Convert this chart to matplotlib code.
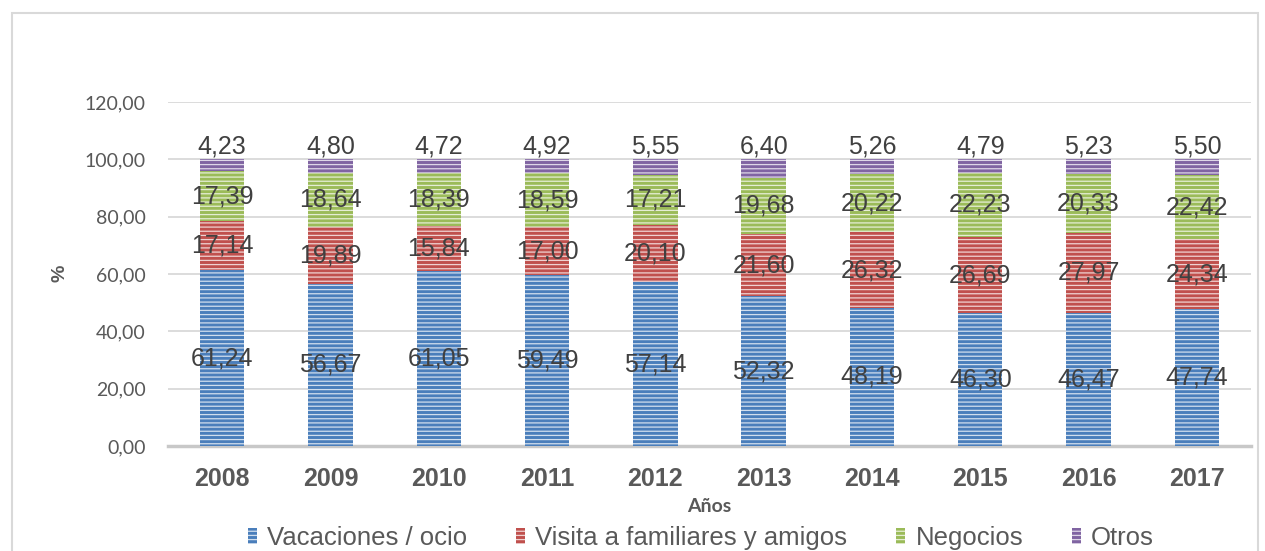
import numpy as np
import matplotlib.pyplot as plt
from matplotlib.patches import Rectangle

years = ['2008', '2009', '2010', '2011', '2012', '2013', '2014', '2015', '2016', '2017']
vacaciones = [61.24, 56.67, 61.05, 59.49, 57.14, 52.32, 48.19, 46.30, 46.47, 47.74]
visita = [17.14, 19.89, 15.84, 17.00, 20.10, 21.60, 26.32, 26.69, 27.97, 24.34]
negocios = [17.39, 18.64, 18.39, 18.59, 17.21, 19.68, 20.22, 22.23, 20.33, 22.42]
otros = [4.23, 4.80, 4.72, 4.92, 5.55, 6.40, 5.26, 4.79, 5.23, 5.50]

series = [
    ('Vacaciones / ocio', vacaciones, '#4a7ebb'),
    ('Visita a familiares y amigos', visita, '#c0504d'),
    ('Negocios', negocios, '#9bbb59'),
    ('Otros', otros, '#8064a2'),
]

plt.rcParams['font.family'] = ['Liberation Sans', 'DejaVu Sans']
plt.rcParams['hatch.linewidth'] = 0.9

fig = plt.figure(figsize=(12.65, 5.51), dpi=100)
ax = fig.add_axes([168 / 1265, 1 - 446 / 551, (1251 - 168) / 1265, (446 - 102) / 551])

# outer chart frame
fig.patches.append(Rectangle((12 / 1265, -0.1), (1258 - 12) / 1265, 1.1 - 13 / 551,
                             transform=fig.transFigure, fill=False,
                             edgecolor='#d9d9d9', lw=1.5))

x = np.arange(len(years))
bottom = np.zeros(len(years))
handles = []
for name, vals, col in series:
    vals = np.array(vals)
    b = ax.bar(x, vals, 0.41, bottom=bottom, color=col, edgecolor=(1, 1, 1, 0.75),
               lw=0, hatch='----', label=name, zorder=2)
    handles.append(b)
    for i, v in enumerate(vals):
        if name == 'Otros':
            ty = 104.5
        else:
            ty = bottom[i] + v / 2
        ax.text(x[i], ty, f'{v:.2f}'.replace('.', ','), ha='center', va='center',
                fontsize=18, color='#404040', zorder=3)
    bottom += vals

ax.set_xlim(-0.5, len(years) - 0.5)
ax.set_ylim(0, 120)
ax.set_yticks(np.arange(0, 121, 20))
ax.set_yticklabels([f'{t:.2f}'.replace('.', ',') for t in np.arange(0, 121, 20)],
                   fontsize=14, color='#595959', family=['Lato', 'DejaVu Sans'])
ax.set_xticks(x)
ax.set_xticklabels(years, fontsize=18, fontweight='bold', color='#595959')
ax.tick_params(axis='both', length=0)
ax.tick_params(axis='y', pad=16)
ax.tick_params(axis='x', pad=15)
ax.grid(axis='y', color='#d9d9d9', lw=1.3, zorder=0)
ax.set_axisbelow(True)
for s in ['top', 'right', 'left']:
    ax.spines[s].set_visible(False)
ax.spines['bottom'].set_color('#c8c8c8')
ax.spines['bottom'].set_linewidth(2.5)
ax.spines['bottom'].set_zorder(1)

fig.text(60 / 1265, 1 - 273 / 551, '%', rotation=90, ha='center', va='center',
         fontsize=14, fontweight='bold', color='#595959')
fig.text(709 / 1265, 1 - 507 / 551, 'Años', ha='center', va='center',
         fontsize=14, fontweight='bold', color='#595959', family=['Lato', 'DejaVu Sans'])

fig.legend(handles=handles, loc='center', bbox_to_anchor=(701 / 1265, 1 - 538 / 551),
           ncol=4, frameon=False, fontsize=18.5, handlelength=0.35, handleheight=0.6,
           handletextpad=0.4, columnspacing=1.9, labelcolor='#595959')

fig.savefig('out.png', dpi=100)
